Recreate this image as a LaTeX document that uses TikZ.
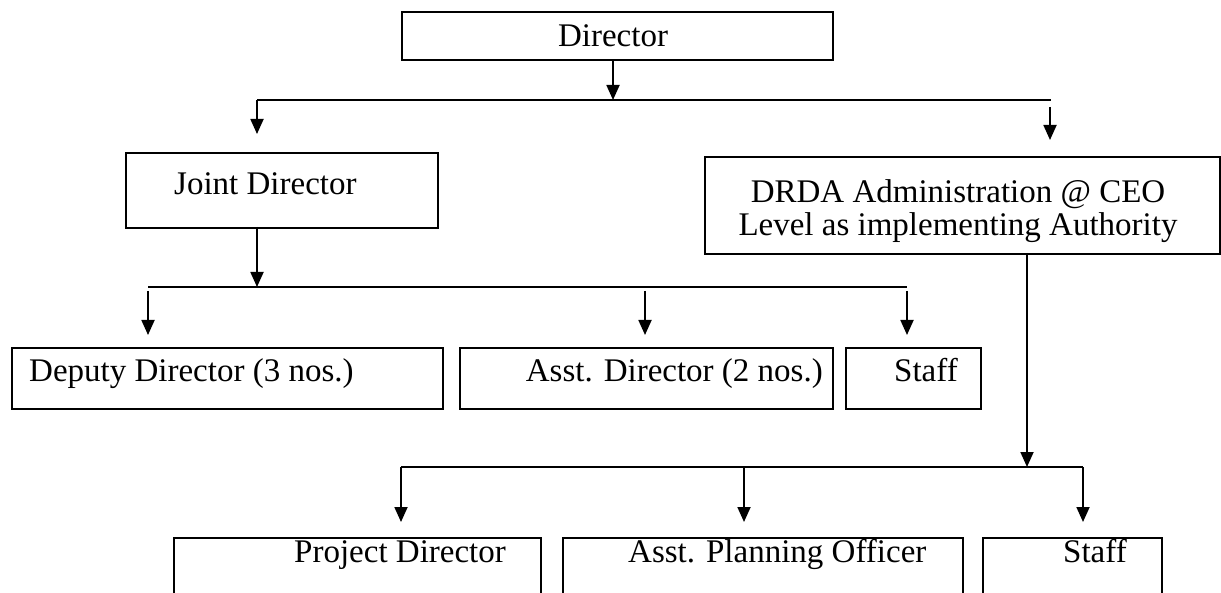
\documentclass[tikz,border=0pt]{standalone}
\usepackage{fontspec}
\setmainfont{Liberation Serif}
\usetikzlibrary{arrows.meta}
\begin{document}
\begin{tikzpicture}[x=1pt,y=-1pt,
  box/.style={draw, line width=1.8pt, rectangle, inner sep=0pt, anchor=north west},
  txt/.style={inner sep=0pt, font=\fontsize{33}{38}\selectfont},
  wire/.style={line width=1.8pt},
  arr/.style={line width=1.8pt, -{Triangle[length=15pt,width=13pt]}}]
\useasboundingbox (0,0) rectangle (1221,593);
\clip (0,0) rectangle (1221,593);

% boxes (top-left corner, size)
\node[box, minimum width=431pt, minimum height=48pt] (dir)   at (401,11)  {};
\node[box, minimum width=312pt, minimum height=75pt] (jd)    at (125,152) {};
\node[box, minimum width=515pt, minimum height=97pt] (drda)  at (704,156) {};
\node[box, minimum width=431pt, minimum height=61pt] (dd)    at (11,347)  {};
\node[box, minimum width=373pt, minimum height=61pt] (ad)    at (459,347) {};
\node[box, minimum width=135pt, minimum height=61pt] (st1)   at (845,347) {};
\node[box, minimum width=367pt, minimum height=90pt] (pd)    at (173,537) {};
\node[box, minimum width=400pt, minimum height=90pt] (apo)   at (562,537) {};
\node[box, minimum width=179pt, minimum height=90pt] (st2)   at (982,537) {};

% labels
\node[txt, anchor=base]      (tdir)  at (613,47)  {Director};
\node[txt, anchor=base west] (tjd)   at (174,195) {Joint Director};
\node[txt, anchor=base]      (tdr1)  at (958,203) {DRDA Administration @ CEO};
\node[txt, anchor=base]      (tdr2)  at (958,236) {Level as implementing Authority};
\node[txt, anchor=base west] (tdd)   at (29,382)  {Deputy Director (3 nos.)};
\node[txt, anchor=base east] (tad)   at (823,382) {Asst. Director (2 nos.)};
\node[txt, anchor=base west] (tst1)  at (894,382) {Staff};
\node[txt, anchor=base west] (tpd)   at (294,562) {Project Director};
\node[txt, anchor=base west] (tapo)  at (628,562) {Asst. Planning Officer};
\node[txt, anchor=base west] (tst2)  at (1063,562) {Staff};

% bus and arrow end points
\coordinate (b1m) at (613,100);
\coordinate (b1l) at (257,100);
\coordinate (b1r) at (1051,100);
\coordinate (r1s) at (1050,107);
\coordinate (jdin) at (257,134);
\coordinate (drin) at (1050,140);

\coordinate (jdout) at (257,227);
\coordinate (b2m) at (257,287);
\coordinate (b2l) at (148,287);
\coordinate (b2r) at (907,287);
\coordinate (s2a) at (148,291);
\coordinate (s2b) at (645,291);
\coordinate (s2c) at (907,291);
\coordinate (ddin) at (148,335);
\coordinate (adin) at (645,335);
\coordinate (st1in) at (907,335);

\coordinate (drout) at (1027,253);
\coordinate (b3m) at (1027,467);
\coordinate (b3l) at (401,467);
\coordinate (b3c) at (744,467);
\coordinate (b3r) at (1083,467);
\coordinate (pdin) at (401,522);
\coordinate (apoin) at (744,522);
\coordinate (st2in) at (1083,522);

% Director level
\draw[arr] (dir.south -| b1m) -- (b1m);
\draw[wire] (b1l) -- (b1r);
\draw[arr] (b1l) -- (jdin);
\draw[arr] (r1s) -- (drin);

% Joint Director branch
\draw[arr] (jdout) -- (b2m);
\draw[wire] (b2l) -- (b2r);
\draw[arr] (s2a) -- (ddin);
\draw[arr] (s2b) -- (adin);
\draw[arr] (s2c) -- (st1in);

% DRDA branch
\draw[arr] (drout) -- (b3m);
\draw[wire] (b3l) -- (b3r);
\draw[arr] (b3l) -- (pdin);
\draw[arr] (b3c) -- (apoin);
\draw[arr] (b3r) -- (st2in);
\end{tikzpicture}
\end{document}
